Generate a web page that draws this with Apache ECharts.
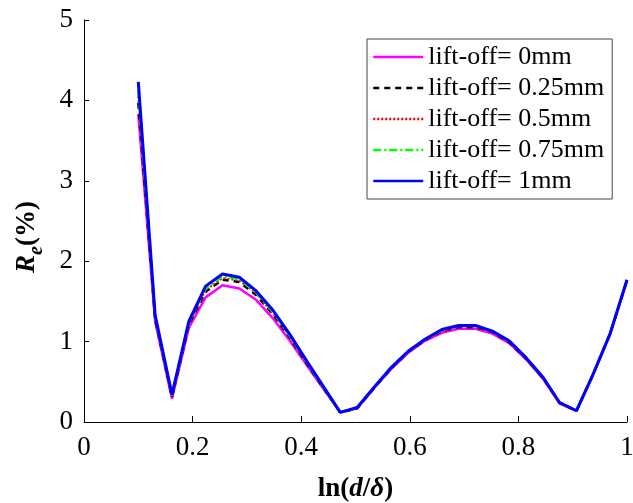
<!DOCTYPE html>
<html>
<head>
<meta charset="utf-8">
<title>lift-off</title>
<script src="https://cdn.jsdelivr.net/npm/echarts@6/dist/echarts.min.js"></script>
<style>
    html, body { margin: 0; padding: 0; background: #fff; }
    #chart-container { width: 633px; height: 503px; }
</style>
</head>
<body>
<div id="chart-container"></div>
<script>
// 横轴 ln(d/δ)
const xValues = [0.100, 0.131, 0.162, 0.193, 0.224, 0.255, 0.286, 0.317, 0.348, 0.379,
    0.410, 0.441, 0.472, 0.503, 0.534, 0.566, 0.597, 0.628, 0.659, 0.690,
    0.721, 0.752, 0.783, 0.814, 0.845, 0.876, 0.907, 0.938, 0.969, 1.000];

// 各提离值下的 Re(%)
const lift0 = [3.83, 1.25, 0.29, 1.17, 1.55, 1.70, 1.66, 1.52, 1.29, 1.01, 0.71, 0.41, 0.12, 0.17, 0.42,
    0.66, 0.86, 1.01, 1.11, 1.16, 1.16, 1.10, 0.98, 0.78, 0.54, 0.23, 0.14, 0.60, 1.10, 1.76];
const lift025 = [3.97, 1.28, 0.31, 1.21, 1.62, 1.77, 1.74, 1.58, 1.34, 1.05, 0.73, 0.42, 0.12, 0.17, 0.42,
    0.67, 0.87, 1.02, 1.13, 1.18, 1.18, 1.12, 0.99, 0.79, 0.55, 0.24, 0.14, 0.60, 1.10, 1.76];
const lift05 = [4.05, 1.30, 0.32, 1.22, 1.64, 1.79, 1.76, 1.60, 1.35, 1.06, 0.74, 0.42, 0.12, 0.18, 0.43,
    0.67, 0.87, 1.02, 1.13, 1.19, 1.19, 1.12, 1.00, 0.79, 0.55, 0.24, 0.14, 0.60, 1.10, 1.76];
const lift075 = [4.12, 1.31, 0.33, 1.24, 1.66, 1.81, 1.78, 1.61, 1.37, 1.07, 0.75, 0.43, 0.12, 0.18, 0.43,
    0.68, 0.88, 1.03, 1.14, 1.20, 1.20, 1.13, 1.01, 0.80, 0.56, 0.24, 0.14, 0.60, 1.10, 1.77];
const lift1 = [4.23, 1.33, 0.34, 1.25, 1.69, 1.84, 1.80, 1.63, 1.39, 1.09, 0.76, 0.44, 0.12, 0.18, 0.43,
    0.68, 0.88, 1.03, 1.15, 1.20, 1.20, 1.13, 1.01, 0.80, 0.56, 0.24, 0.14, 0.60, 1.10, 1.77];

const seriesNames = ['lift-off= 0mm', 'lift-off= 0.25mm', 'lift-off= 0.5mm', 'lift-off= 0.75mm', 'lift-off= 1mm'];
const xTicks = [0, 0.2, 0.4, 0.6, 0.8, 1];
const yTicks = [0, 1, 2, 3, 4, 5];

const FONT = 'Liberation Serif';

document.addEventListener('DOMContentLoaded', () => {
    initChart();
});

// 把横轴和纵轴数组拼成点
function toPoints(ys) {
    return xValues.map((x, i) => [x, ys[i]]);
}

function makeSeries(name, ys, color, type, width) {
    return {
        name: name,
        type: 'line',
        data: toPoints(ys),
        symbol: 'none',
        showSymbol: false,
        animation: false,
        lineStyle: { color: color, type: type, width: width },
        itemStyle: { color: color }
    };
}

function initChart() {
    const chartContainer = document.getElementById('chart-container');
    const myChart = echarts.init(chartContainer);

    const option = {
        backgroundColor: '#fff',
        animation: false,
        textStyle: { fontFamily: FONT },
        grid: { left: 84, right: 6, top: 20, bottom: 81, outerBoundsMode: 'none', containLabel: false },
        legend: {
            orient: 'vertical',
            left: 367,
            top: 39,
            padding: [5, 8, 5, 5],
            itemWidth: 50,
            itemHeight: 14,
            itemGap: 5,
            borderColor: '#444',
            borderWidth: 1,
            itemStyle: { opacity: 0 },
            lineStyle: { width: 2.5 },
            textStyle: { fontFamily: FONT, fontSize: 26, lineHeight: 26, color: '#000' },
            data: seriesNames
        },
        xAxis: {
            type: 'value',
            min: xTicks[0],
            max: xTicks[xTicks.length - 1],
            interval: 0.2,
            splitLine: { show: false },
            axisLine: { lineStyle: { color: '#000', width: 1 } },
            axisTick: { inside: true, length: 6, lineStyle: { color: '#000' } },
            axisLabel: { fontFamily: FONT, fontSize: 27, color: '#000', margin: 12 },
            name: '{b|ln(}{bi|d}{b|/}{bi|δ}{b|)}',
            nameLocation: 'middle',
            nameGap: 54,
            nameTextStyle: {
                rich: {
                    b: { fontFamily: FONT, fontSize: 27, fontWeight: 'bold', color: '#000' },
                    bi: { fontFamily: FONT, fontSize: 27, fontWeight: 'bold', fontStyle: 'italic', color: '#000' }
                }
            }
        },
        yAxis: {
            type: 'value',
            min: yTicks[0],
            max: yTicks[yTicks.length - 1],
            interval: 1,
            splitLine: { show: false },
            axisLine: { show: true, lineStyle: { color: '#000', width: 1 } },
            axisTick: { show: true, inside: true, length: 5, lineStyle: { color: '#000' } },
            axisLabel: { fontFamily: FONT, fontSize: 27, color: '#000', margin: 11 },
            name: '{r|R}{e|e}{b|(%)}',
            nameLocation: 'middle',
            nameRotate: 90,
            nameGap: 37,
            nameTextStyle: {
                padding: [0, 32, 0, 0],
                rich: {
                    r: { fontFamily: FONT, fontSize: 27, fontWeight: 'bold', fontStyle: 'italic', lineHeight: 40, color: '#000' },
                    e: { fontFamily: FONT, fontSize: 20, fontWeight: 'bold', fontStyle: 'italic', lineHeight: 24, verticalAlign: 'bottom', color: '#000' },
                    b: { fontFamily: FONT, fontSize: 27, fontWeight: 'bold', lineHeight: 40, color: '#000' }
                }
            }
        },
        series: [
            makeSeries(seriesNames[0], lift0, '#ff00ff', 'solid', 2.5),
            makeSeries(seriesNames[1], lift025, '#000000', [6, 5], 2.5),
            makeSeries(seriesNames[2], lift05, '#ff0000', [2, 2], 2),
            makeSeries(seriesNames[3], lift075, '#00ff00', [8, 3, 2, 3], 2.5),
            makeSeries(seriesNames[4], lift1, '#0000ff', 'solid', 3)
        ]
    };

    myChart.setOption(option);
}
</script>
</body>
</html>
